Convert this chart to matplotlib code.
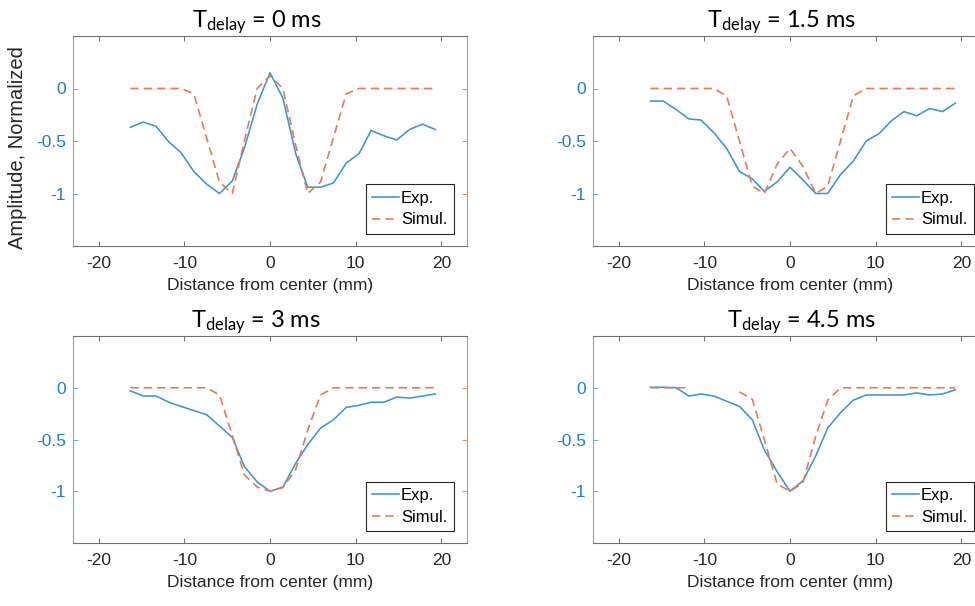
import matplotlib

matplotlib.use("Agg")
import matplotlib.pyplot as plt
import numpy as np

plt.rcParams["font.family"] = ["Liberation Sans", "DejaVu Sans"]
plt.rcParams["mathtext.fontset"] = "custom"
plt.rcParams["mathtext.rm"] = "Lato"
plt.rcParams["mathtext.it"] = "Lato:italic"

# distance from centre (mm), same grid for every panel
distance = [-16.3, -14.8, -13.3, -11.8, -10.4, -8.9, -7.4, -5.9, -4.4, -3.0,
            -1.5, 0.0, 1.5, 3.0, 4.4, 5.9, 7.4, 8.9, 10.4, 11.8, 13.3, 14.8,
            16.3, 17.8, 19.3]

delays = ["0", "1.5", "3", "4.5"]
x_ticks = [-20, -10, 0, 10, 20]
x_tick_labels = ["-20", "-10", "0", "10", "20"]
y_ticks = [0, -0.5, -1]
y_tick_labels = ["0", "-0.5", "-1"]

exp_0 = [-0.37, -0.32, -0.36, -0.51, -0.61, -0.79, -0.91, -1.00, -0.88, -0.57,
         -0.15, 0.15, -0.09, -0.62, -0.94, -0.94, -0.90, -0.71, -0.62, -0.40,
         -0.45, -0.49, -0.39, -0.34, -0.39]
sim_0 = [0, 0, 0, 0, 0, -0.05, -0.47, -0.89, -1.00, -0.50,
         0, 0.12, 0, -0.54, -1.00, -0.89, -0.47, -0.05, 0, 0,
         0, 0, 0, 0, 0]

exp_15 = [-0.12, -0.12, -0.20, -0.29, -0.30, -0.42, -0.57, -0.79, -0.86, -0.98,
          -0.89, -0.75, -0.87, -1.00, -1.00, -0.82, -0.69, -0.50, -0.43, -0.31,
          -0.22, -0.26, -0.19, -0.22, -0.14]
sim_15 = [0, 0, 0, 0, 0, 0, -0.07, -0.50, -0.93, -1.00,
          -0.72, -0.57, -0.74, -1.00, -0.93, -0.50, -0.07, 0, 0, 0,
          0, 0, 0, 0, 0]

exp_3 = [-0.03, -0.08, -0.08, -0.14, -0.18, -0.22, -0.26, -0.37, -0.48, -0.76,
         -0.91, -1.00, -0.96, -0.73, -0.55, -0.39, -0.31, -0.19, -0.17, -0.14,
         -0.14, -0.09, -0.10, -0.08, -0.06]
sim_3 = [0, 0, 0, 0, 0, 0, 0, -0.07, -0.46, -0.84,
         -0.96, -1.00, -0.965, -0.79, -0.41, -0.07, 0, 0, 0, 0,
         0, 0, 0, 0, 0]

exp_45 = [0.005, 0.005, 0.0, -0.08, -0.06, -0.08, -0.13, -0.18, -0.31, -0.60,
          -0.81, -1.00, -0.90, -0.66, -0.39, -0.24, -0.12, -0.07, -0.07, -0.07,
          -0.07, -0.05, -0.07, -0.06, -0.02]
sim_45 = [0, 0, 0, 0, np.nan, np.nan, np.nan, -0.04, -0.11, -0.50,
          -0.93, -1.00, -0.92, -0.47, -0.12, 0, 0, 0, 0, 0,
          0, 0, 0, 0, 0]

exp_series = [exp_0, exp_15, exp_3, exp_45]
sim_series = [sim_0, sim_15, sim_3, sim_45]

BLUE = "#3b95d6"
BLUE_TEXT = "#1a7fcf"
BLUE_SPINE = "#6aaade"
ORANGE = "#e97a4f"
ORANGE_SPINE = "#e08a68"
GREY = "#707070"

W, H = 975, 606
fig = plt.figure(figsize=(W / 100, H / 100), dpi=100)

# axes boxes in pixels: left, top, right, bottom
boxes = [(73, 36, 467, 246), (593, 36, 987, 246),
         (73, 336, 467, 543), (593, 336, 987, 543)]
title_pos = [(257, 27), (782, 27), (256, 327), (802, 327)]

for i, (l, t, r, b) in enumerate(boxes):
    ax = fig.add_axes([l / W, (H - b) / H, (r - l) / W, (b - t) / H])
    ax.plot(distance, exp_series[i], color=BLUE, lw=1.15, label="Exp.")
    sim_line, = ax.plot(distance, sim_series[i], color=ORANGE, lw=1.2,
                        label="Simul.")
    sim_line.set_dashes((5, 3))

    ax.set_xlim(-23, 23)
    ax.set_ylim(-1.5, 0.5)
    ax.set_xticks(x_ticks)
    ax.set_xticklabels(x_tick_labels)
    ax.set_yticks(y_ticks)
    ax.set_yticklabels(y_tick_labels)
    ax.tick_params(axis="x", direction="in", length=3.5, width=0.7,
                   color=GREY, top=True, labelsize=12.5, pad=7,
                   labelcolor="#262626")
    ax.tick_params(axis="y", direction="in", length=3.5, width=0.7,
                   color=BLUE_SPINE, labelsize=12.5, pad=5,
                   labelcolor=BLUE_TEXT)
    ax.spines["left"].set_color(BLUE_SPINE)
    ax.spines["top"].set_color(GREY)
    ax.spines["bottom"].set_color(GREY)
    ax.spines["right"].set_color(ORANGE_SPINE)
    for side in ax.spines.values():
        side.set_linewidth(0.8)
    ax.set_xlabel("Distance from center (mm)", fontsize=12.5,
                  color="#262626", labelpad=5)

    # right axis, as in yyaxis
    ax2 = ax.twinx()
    ax2.set_ylim(ax.get_ylim())
    ax2.set_yticks(y_ticks)
    ax2.tick_params(axis="y", direction="in", length=3.5, width=0.7,
                    color=ORANGE_SPINE, labelright=False)
    for side in ax2.spines.values():
        side.set_visible(False)

    leg = ax.legend(loc="lower right", bbox_to_anchor=(0.966, 0.058),
                    borderaxespad=0, fontsize=12, frameon=True,
                    fancybox=False, edgecolor="#262626", framealpha=1,
                    handlelength=1.6, handletextpad=0.12, labelspacing=0.4,
                    borderpad=0.38)
    leg.get_frame().set_linewidth(0.8)

    tx, ty = title_pos[i]
    fig.text(tx / W, 1 - ty / H, r"T$_{\mathrm{delay}}$ = " + delays[i] + " ms",
             family="Lato", fontsize=17, ha="center", va="baseline")

fig.text(18 / W, 1 - 148 / H, "Amplitude, Normalized", rotation=90,
         fontsize=14.5, ha="center", va="center", color="#262626")

fig.savefig("out.png", dpi=100)
